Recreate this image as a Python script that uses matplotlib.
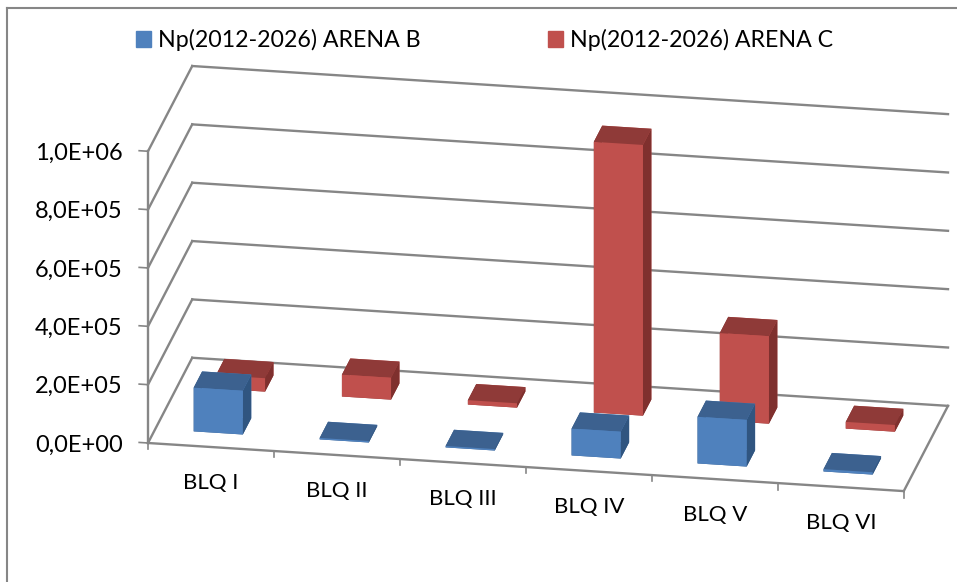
import matplotlib
matplotlib.use("Agg")
import matplotlib.pyplot as plt
from matplotlib.lines import Line2D
from matplotlib.patches import Rectangle
from mpl_toolkits.mplot3d import proj3d
import numpy as np

plt.rcParams['font.family'] = ['Lato', 'DejaVu Sans']

# datos
categorias = ["BLQ I", "BLQ II", "BLQ III", "BLQ IV", "BLQ V", "BLQ VI"]
arena_b = [1.5e5, 5e3, 5e3, 9.2e4, 1.6e5, 8e3]
arena_c = [4.6e4, 7.5e4, 1.5e4, 9.28e5, 3.0e5, 2.3e4]
niveles = [0, 2e5, 4e5, 6e5, 8e5, 1e6]
etiquetas_y = ["0,0E+00", "2,0E+05", "4,0E+05", "6,0E+05", "8,0E+05", "1,0E+06"]
nombres = ["Np(2012-2026) ARENA B", "Np(2012-2026) ARENA C"]

GRIS = "#868686"
W, H = 957, 582

fig = plt.figure(figsize=(W / 100, H / 100), dpi=100)
ax = fig.add_axes([0, -0.32, 1, 1.64], projection='3d', computed_zorder=False)
ax.set_proj_type('ortho')
ax.view_init(elev=20.5, azim=-79.7)
ax.set_xlim(0, 6)
ax.set_ylim(0, 1)
ax.set_zlim(0, 1e6)
ax.set_axis_off()
ax.patch.set_alpha(0)


def a_pixel(x, y, z):
    ax.apply_aspect()
    xp, yp, _ = proj3d.proj_transform(x, y, z, ax.get_proj())
    return ax.transData.transform((xp, yp))


# ajuste de escala y posicion para caer sobre las esquinas del original
zoom = 1.0
ax.set_box_aspect((767, 247, 311), zoom=zoom)
ancho = a_pixel(6, 1, 0)[0] - a_pixel(0, 0, 0)[0]
zoom = zoom * (948 - 148) / ancho
ax.set_box_aspect((767, 247, 311), zoom=zoom)
p0 = a_pixel(0, 0, 0)
pos = ax.get_position(original=True)
ax.set_position([pos.x0 + (148 - p0[0]) / W, pos.y0 + ((H - 443) - p0[1]) / H, pos.width, pos.height])

# paredes y piso
for n in niveles:
    ax.plot([0, 0], [0, 1], [n, n], color=GRIS, lw=1.7, zorder=1)
    ax.plot([0, 6], [1, 1], [n, n], color=GRIS, lw=1.7, zorder=1)
    ax.plot([-0.07, 0], [0, 0], [n, n], color=GRIS, lw=1.2, zorder=1)
ax.plot([0, 0], [0, 0], [0, 1e6], color=GRIS, lw=1.7, zorder=1)
ax.plot([0, 6], [0, 0], [0, 0], color=GRIS, lw=1.7, zorder=1)
ax.plot([6, 6], [0, 1], [0, 0], color=GRIS, lw=1.7, zorder=1)
for i in range(7):
    ax.plot([i, i], [0, 0], [0, -2.2e4], color=GRIS, lw=1.2, zorder=1)

# barras: caras -z, +z, -y, +y, -x, +x
x = np.arange(6) + 0.305
colores_c = ["#8F3A38", "#8F3A38", "#C0504D", "#C0504D", "#7F302E", "#7F302E"] * 6
colores_b = ["#3C618F", "#3C618F", "#4F81BD", "#4F81BD", "#305580", "#305580"] * 6
ax.bar3d(x, np.full(6, 0.668), np.zeros(6), 0.39, 0.19, arena_c, color=colores_c,
         shade=False, linewidth=0, zorder=2)
ax.bar3d(x, np.full(6, 0.165), np.zeros(6), 0.39, 0.19, arena_b, color=colores_b,
         shade=False, linewidth=0, zorder=3)

# textos de ejes, ubicados con la proyeccion del eje
for n, t in zip(niveles, etiquetas_y):
    px, py = a_pixel(-0.2, 0, n - 1.2e4)
    fig.text(px / W, py / H, t, ha='right', va='center', fontsize=17, color='black')
for i, c in enumerate(categorias):
    px, py = a_pixel(i + 0.5, 0, -1.23e5)
    fig.text(px / W, py / H, c, ha='center', va='center', fontsize=16, color='black')

# leyenda
manijas = [Rectangle((0, 0), 1, 1, color="#4F81BD"), Rectangle((0, 0), 1, 1, color="#C0504D")]
fig.legend(manijas, nombres, ncols=2, loc='center left', bbox_to_anchor=(136 / W, 1 - 40 / H),
           frameon=False, fontsize=16.7, borderpad=0, borderaxespad=0, handlelength=0.65,
           handleheight=0.65, handletextpad=0.3, columnspacing=5.47)

# marco del grafico
fig.add_artist(Line2D([7 / W, 7 / W], [0, 1 - 8 / H], color=GRIS, lw=1.5))
fig.add_artist(Line2D([7 / W, 1], [1 - 8 / H, 1 - 8 / H], color=GRIS, lw=1.5))

fig.savefig("out.png", dpi=100)
